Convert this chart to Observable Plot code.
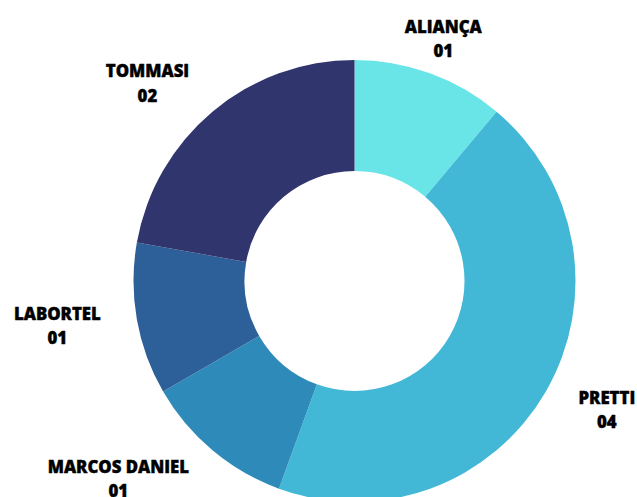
<!DOCTYPE html>
<html><head><meta charset="utf-8">
<script src="https://cdn.jsdelivr.net/npm/d3@7"></script>
<script src="https://cdn.jsdelivr.net/npm/@observablehq/plot@0.6"></script>
<style>body{margin:0;background:#fff} svg{display:block}</style>
</head><body><div id="chart"></div>
<script>
const categories = ["ALIANÇA", "PRETTI", "MARCOS DANIEL", "LABORTEL", "TOMMASI"];
const values = [1, 4, 1, 1, 2];
const valueLabels = ["01", "04", "01", "01", "02"];
const colors = ["#69E5E8", "#42B8D6", "#2E8BB9", "#2D5F99", "#31356E"];

const W = 637, H = 497, cx = 354.5, cy = 281, rOuter = 221, rInner = 110, rLabel = 258;

const data = categories.map((c, i) => ({category: c, value: values[i], label: valueLabels[i]}));
const pie = d3.pie().value(d => d.value).sort(null)(data);
const color = Plot.scale({color: {domain: categories, range: colors}});
const arc = d3.arc().innerRadius(rInner).outerRadius(rOuter);

const labels = pie.map(p => {
  const a = (p.startAngle + p.endAngle) / 2, s = Math.sin(a);
  return {text: p.data.category + "\n" + p.data.label, x: cx + rLabel * s, y: cy - rLabel * Math.cos(a),
          side: Math.abs(s) < 0.5 ? 0 : (s > 0 ? 1 : -1)};
});

function donut() {
  const g = d3.create("svg:g").attr("transform", `translate(${cx},${cy})`);
  g.selectAll("path").data(pie).join("path")
    .attr("d", arc).attr("fill", d => color.apply(d.data.category));
  return g.node();
}

const chart = Plot.plot({
  width: W, height: H, margin: 0,
  x: {domain: [0, W], range: [0, W], axis: null},
  y: {domain: [0, H], range: [0, H], axis: null},
  style: {fontFamily: "'Open Sans', sans-serif", background: "#fff"},
  marks: [
    donut,
    Plot.text(labels, {x: "x", y: "y", text: "text", textAnchor: "middle", lineAnchor: "middle",
      lineHeight: 1.45, fontSize: 16.8, fontWeight: 800, fill: "#000", stroke: "#000", strokeWidth: 0.4,
      dy: -2})
  ]
});
document.getElementById("chart").append(chart);
const texts = chart.querySelectorAll("text");
texts.forEach((el, i) => {
  const side = labels[i].side;
  if (!side) return;
  const w = el.getBBox().width;
  el.setAttribute("transform", (el.getAttribute("transform") || "") + ` translate(${side * w / 2},0)`);
});
</script></body></html>
